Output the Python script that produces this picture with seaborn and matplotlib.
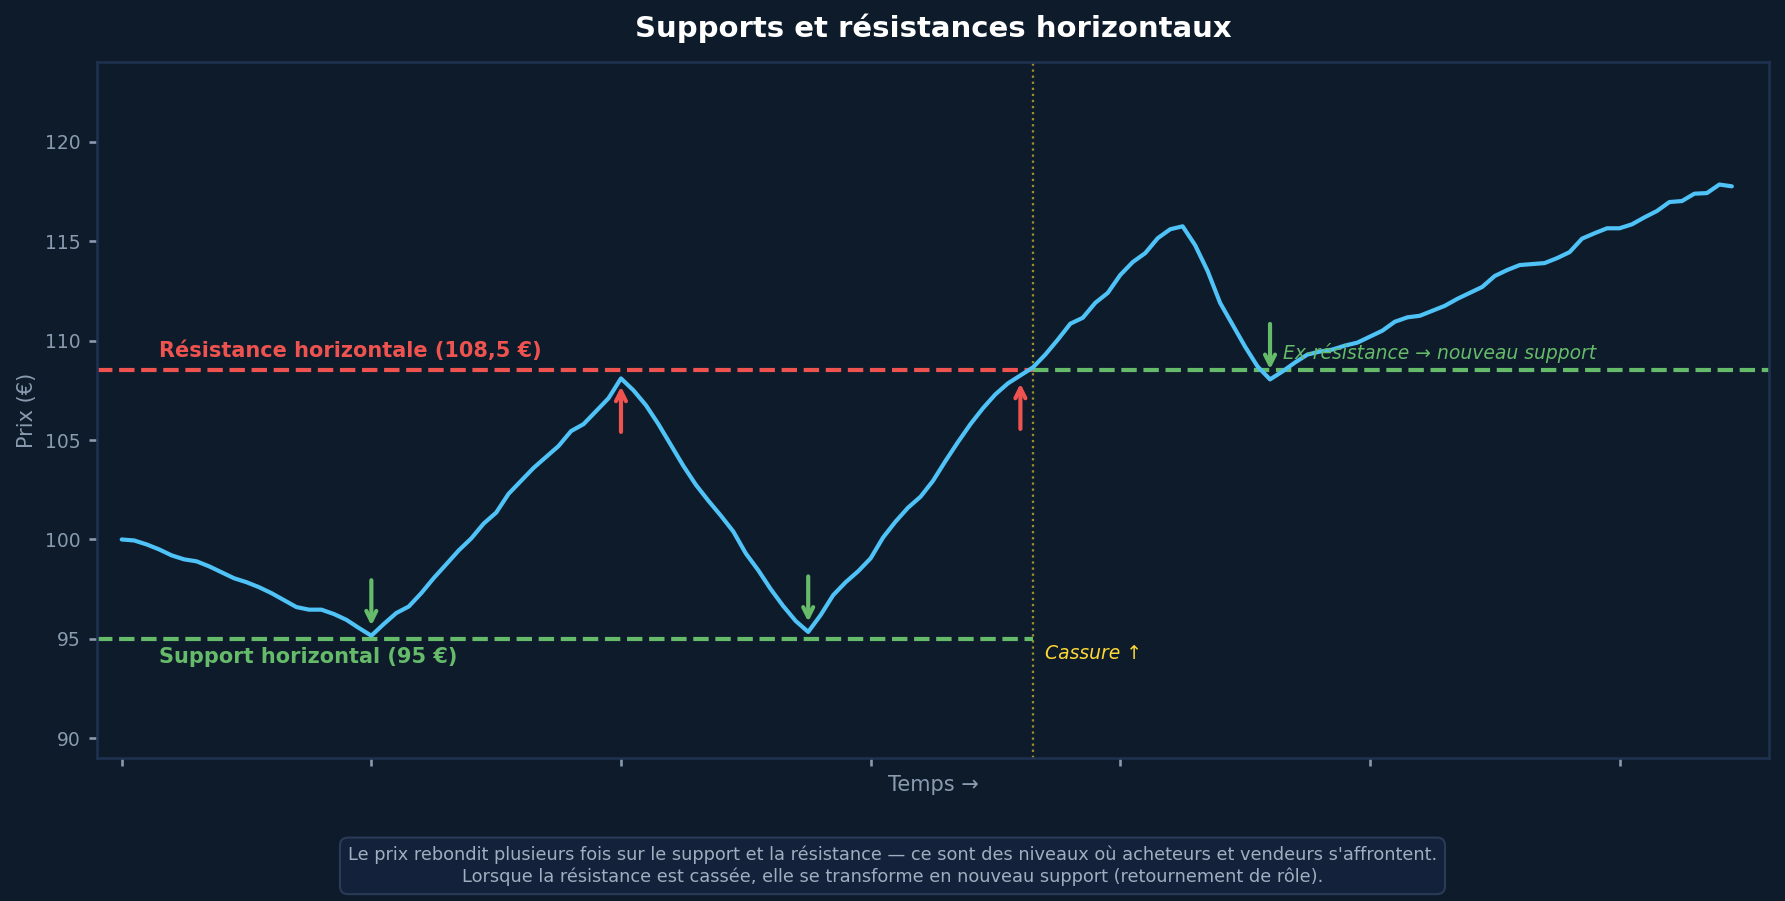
import numpy as np
import pandas as pd
import matplotlib
matplotlib.use("Agg")
import matplotlib.pyplot as plt
import seaborn as sns

# price path (one point per period)
prix = [
    100.0, 99.95, 99.75, 99.5, 99.2, 99.0, 98.9, 98.65, 98.35, 98.05,
    97.85, 97.6, 97.3, 96.95, 96.6, 96.47, 96.47, 96.25, 95.96, 95.55,
    95.16, 95.75, 96.3, 96.63, 97.3, 98.06, 98.75, 99.45, 100.05, 100.8,
    101.35, 102.3, 102.95, 103.6, 104.15, 104.7, 105.45, 105.8, 106.45, 107.1,
    108.1, 107.5, 106.75, 105.8, 104.75, 103.7, 102.75, 101.95, 101.2, 100.4,
    99.3, 98.45, 97.5, 96.65, 95.9, 95.35, 96.2, 97.2, 97.85, 98.4,
    99.05, 100.1, 100.9, 101.6, 102.15, 102.95, 103.95, 104.9, 105.8, 106.6,
    107.3, 107.85, 108.25, 108.65, 109.3, 110.05, 110.85, 111.15, 111.9, 112.4,
    113.3, 113.95, 114.4, 115.15, 115.6, 115.75, 114.8, 113.5, 111.9, 110.8,
    109.7, 108.7, 108.05, 108.45, 108.9, 109.3, 109.45, 109.55, 109.75, 109.9,
    110.2, 110.5, 110.95, 111.17, 111.25, 111.5, 111.75, 112.1, 112.4, 112.7,
    113.25, 113.55, 113.8, 113.85, 113.9, 114.15, 114.45, 115.13, 115.4, 115.65,
    115.65, 115.85, 116.2, 116.52, 116.97, 117.02, 117.39, 117.42, 117.85, 117.76,
]
support = 95.0
resistance = 108.5
cassure = 73
rebonds_support = [20, 55]
rebonds_resistance = [40, 72]
retest = 92

BG = "#0d1b2a"
BLEU = "#4fc3f7"
ROUGE = "#ef5350"
VERT = "#66bb6a"
JAUNE = "#fdd835"
GRIS = "#8a9bb0"
SPINE = "#1f3150"

sns.set_theme(style="dark", rc={
    "axes.facecolor": BG,
    "figure.facecolor": BG,
    "axes.edgecolor": SPINE,
    "xtick.color": GRIS,
    "ytick.color": GRIS,
    "axes.labelcolor": GRIS,
    "xtick.bottom": True,
    "ytick.left": True,
})
plt.rcParams["font.family"] = ["DejaVu Sans"]

df = pd.DataFrame({"t": np.arange(len(prix)), "prix": prix})

fig, ax = plt.subplots(figsize=(11.9, 6.0067), dpi=150)
fig.subplots_adjust(left=0.0542, right=0.9912, top=0.9309, bottom=0.1585)

sns.lineplot(data=df, x="t", y="prix", color=BLEU, lw=2, ax=ax, zorder=3)

xmin, xmax = -2, len(prix) + 2
ax.hlines(support, xmin, cassure, colors=VERT, linestyles="--", lw=2, zorder=2)
ax.hlines(resistance, xmin, cassure, colors=ROUGE, linestyles="--", lw=2, zorder=2)
ax.hlines(resistance, cassure, xmax, colors=VERT, linestyles="--", lw=2, zorder=2)
ax.axvline(cassure, color=JAUNE, ls=":", lw=1.1, alpha=0.6, zorder=1)

ax.text(3, resistance + 0.5, "Résistance horizontale (108,5 €)", color=ROUGE,
        fontsize=10, fontweight="bold", va="bottom")
ax.text(3, support - 0.4, "Support horizontal (95 €)", color=VERT,
        fontsize=10, fontweight="bold", va="top")
ax.text(cassure + 1, 94.25, "Cassure ↑", color=JAUNE, fontsize=9,
        style="italic", va="center")
ax.text(retest + 1, 109.4, "Ex-résistance → nouveau support", color=VERT,
        fontsize=9, style="italic", va="center")

for i in rebonds_support + [retest]:
    ax.annotate("", xy=(i, prix[i] + 0.3), xytext=(i, prix[i] + 3.0),
                arrowprops=dict(arrowstyle="->", color=VERT, lw=2))
for i in rebonds_resistance:
    ax.annotate("", xy=(i, prix[i] - 0.2), xytext=(i, prix[i] - 2.9),
                arrowprops=dict(arrowstyle="->", color=ROUGE, lw=2))

ax.set_xlim(xmin, xmax)
ax.set_ylim(89, 124)
ax.set_xticks(range(0, 121, 20))
ax.set_xticklabels([])
ax.set_yticks(range(90, 121, 5))
ax.tick_params(labelsize=9, length=4, color=GRIS)
ax.set_xlabel("Temps →", fontsize=10, labelpad=0.7)
ax.set_ylabel("Prix (€)", fontsize=10)
ax.set_title("Supports et résistances horizontaux", color="white",
             fontsize=14, fontweight="bold", pad=12)
for s in ax.spines.values():
    s.set_color(SPINE)

fig.text(0.5, 0.039,
         "Le prix rebondit plusieurs fois sur le support et la résistance — ce sont des niveaux où acheteurs et vendeurs s'affrontent.\n"
         "Lorsque la résistance est cassée, elle se transforme en nouveau support (retournement de rôle).",
         ha="center", va="center", fontsize=8.5, color="#a0aec0", linespacing=1.25,
         bbox=dict(boxstyle="round,pad=0.45", facecolor="#13223a", edgecolor="#2a3b58"))

fig.savefig("out.png", dpi=150, facecolor=BG)
